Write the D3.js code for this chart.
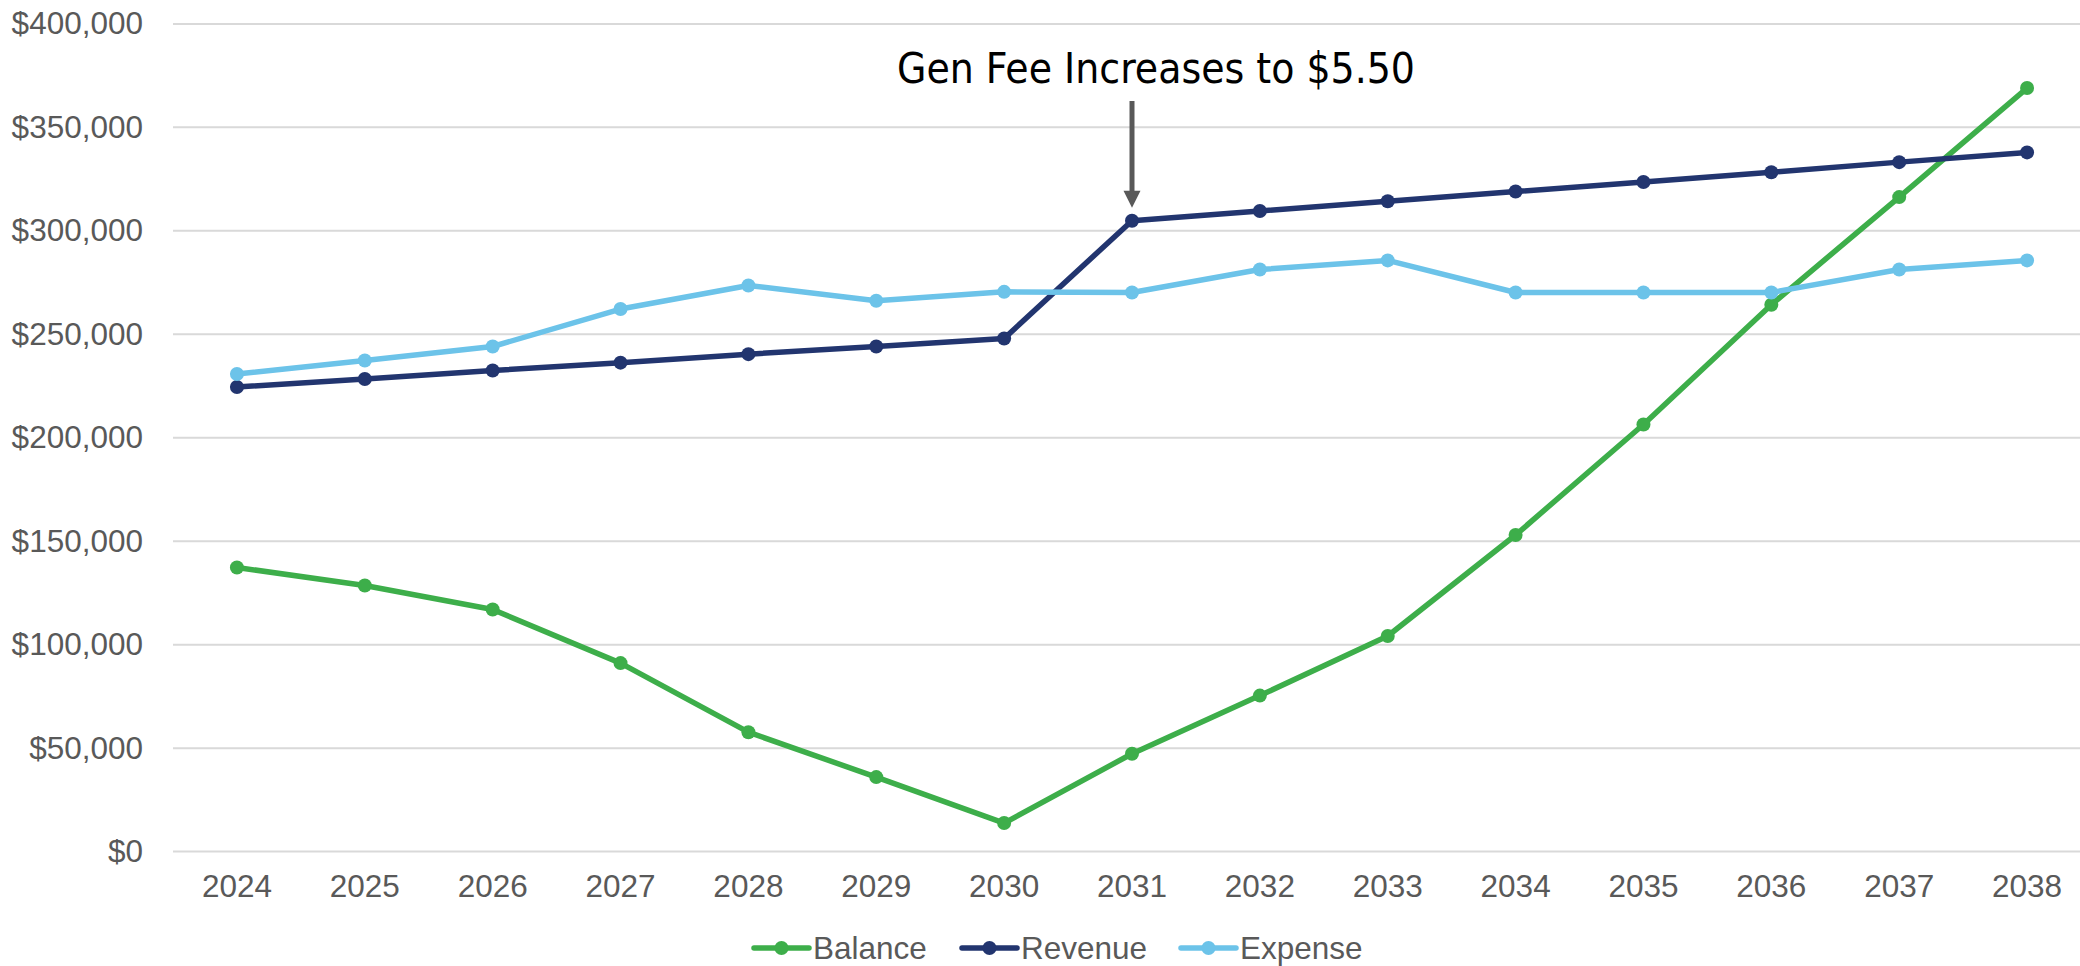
<!DOCTYPE html>
<html>
<head>
<meta charset="utf-8">
<script src="https://cdn.jsdelivr.net/npm/d3@7"></script>
<style>
  html, body { margin: 0; padding: 0; background: #fff; overflow: hidden; }
  svg { display: block; }
</style>
</head>
<body>
<svg id="chart" width="2080" height="966"></svg>
<script>
const years = ["2024","2025","2026","2027","2028","2029","2030","2031","2032","2033","2034","2035","2036","2037","2038"];
const balance = [137300,128600,117000,91100,57700,36000,13800,47300,75400,104200,153000,206400,264300,316300,369000];
const revenue = [224500,228400,232500,236300,240400,244100,248000,304900,309600,314300,319000,323600,328300,333200,337900];
const expense = [230800,237300,244100,262200,273600,266200,270500,270200,281300,285700,270200,270200,270200,281300,285700];
const yTicks = [0,50000,100000,150000,200000,250000,300000,350000,400000];
const seriesNames = ["Balance","Revenue","Expense"];
const seriesColors = ["#3DAE4A","#22356F","#6CC3E9"];
const annotationText = "Gen Fee Increases to $5.50";
const annotationYear = "2031";

const svg = d3.select("#chart");
const x = d3.scaleBand().domain(years).range([173, 2091]);
const cx = d => x(d) + x.bandwidth() / 2;
const y = d3.scaleLinear().domain([0, 400000]).range([851.6, 23.9]);

// y axis labels
const yAxis = d3.axisLeft(y).tickValues(yTicks).tickSize(0).tickPadding(30)
  .tickFormat(d => "$" + d3.format(",")(d));
const gy = svg.append("g").attr("transform", "translate(173,0)").call(yAxis);
gy.select(".domain").remove();
gy.selectAll("text").attr("font-family", "'Liberation Sans', Arial, sans-serif")
  .attr("font-size", 31.5).attr("fill", "#595959");
// gridlines
svg.append("g").selectAll("line").data(yTicks).join("line")
  .attr("x1", 173).attr("x2", 2091)
  .attr("y1", d => y(d)).attr("y2", d => y(d))
  .attr("stroke", "#D9D9D9").attr("stroke-width", 2);

// x axis labels
const xAxis = d3.axisBottom(x).tickSize(0).tickPadding(23);
const gx = svg.append("g").attr("transform", `translate(0,${y(0)})`).call(xAxis);
gx.select(".domain").remove();
gx.selectAll("text").attr("font-family", "'Liberation Sans', Arial, sans-serif")
  .attr("font-size", 31.5).attr("fill", "#595959");

// series
const allSeries = [balance, revenue, expense];
const line = d3.line().x((d, i) => cx(years[i])).y(d => y(d));
allSeries.forEach((vals, si) => {
  const g = svg.append("g");
  g.append("path").datum(vals).attr("d", line)
    .attr("fill", "none").attr("stroke", seriesColors[si])
    .attr("stroke-width", 5.5).attr("stroke-linejoin", "round");
  g.selectAll("circle").data(vals).join("circle")
    .attr("cx", (d, i) => cx(years[i])).attr("cy", d => y(d))
    .attr("r", 7).attr("fill", seriesColors[si]);
});

// annotation
const ax = cx(annotationYear);
const ri = years.indexOf(annotationYear);
const tipY = y(revenue[ri]) - 13;
svg.append("line").attr("x1", ax).attr("x2", ax).attr("y1", 101).attr("y2", tipY - 14)
  .attr("stroke", "#595959").attr("stroke-width", 5);
svg.append("path")
  .attr("d", `M${ax - 8.5},${tipY - 17} L${ax + 8.5},${tipY - 17} L${ax},${tipY} Z`)
  .attr("fill", "#595959");
svg.append("text").attr("x", 1156).attr("y", 83)
  .attr("text-anchor", "middle")
  .attr("font-family", "'DejaVu Sans Condensed', 'DejaVu Sans', sans-serif")
  .attr("font-size", 43).attr("fill", "#000")
  .attr("textLength", 518).attr("lengthAdjust", "spacingAndGlyphs")
  .text(annotationText);

// legend
const legendStarts = [754, 962, 1181];
const lg = svg.append("g");
seriesNames.forEach((name, i) => {
  const lx = legendStarts[i];
  lg.append("line").attr("x1", lx).attr("x2", lx + 55).attr("y1", 948).attr("y2", 948)
    .attr("stroke", seriesColors[i]).attr("stroke-width", 5.5).attr("stroke-linecap", "round");
  lg.append("circle").attr("cx", lx + 27.5).attr("cy", 948).attr("r", 7).attr("fill", seriesColors[i]);
  lg.append("text").attr("x", lx + 59).attr("y", 959)
    .attr("font-family", "'Liberation Sans', Arial, sans-serif")
    .attr("font-size", 31.5).attr("fill", "#595959").text(name);
});
</script>
</body>
</html>
